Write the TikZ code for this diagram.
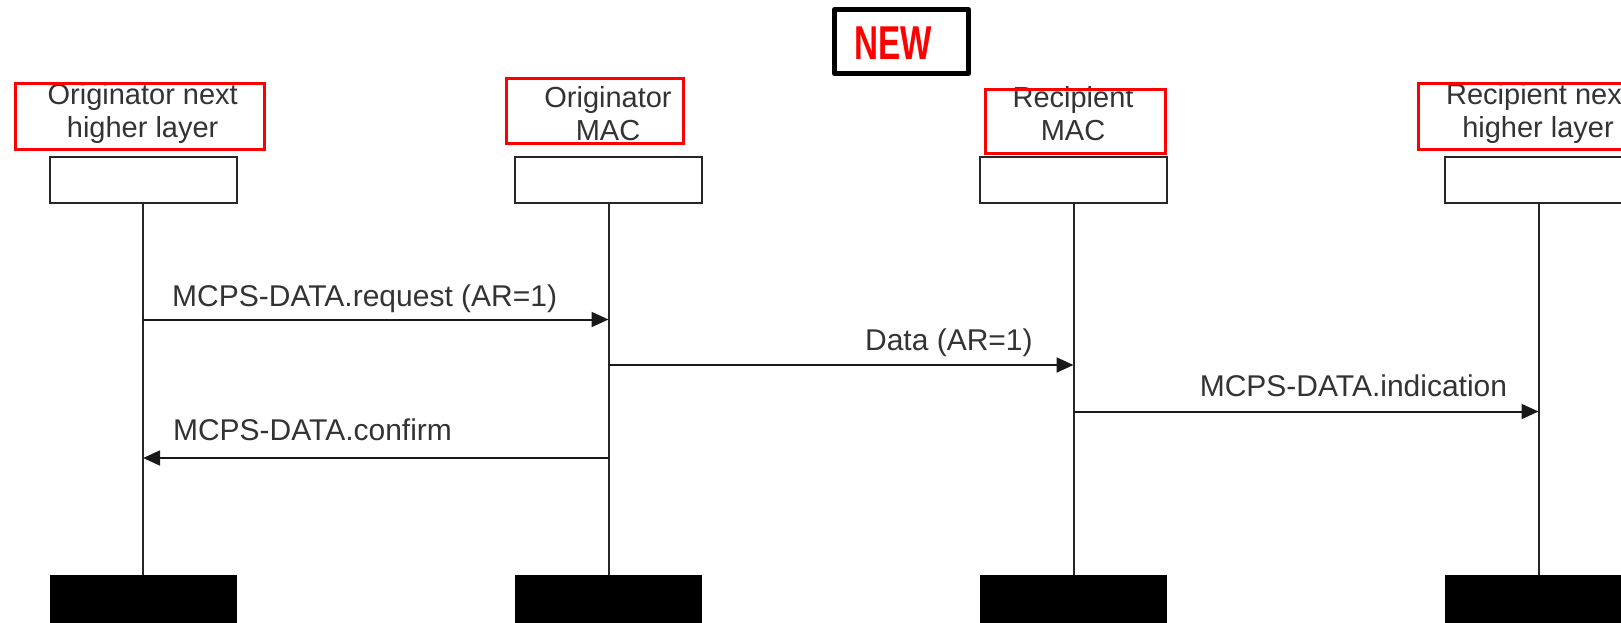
\documentclass[tikz,border=0pt]{standalone}
\usepackage{fontspec}
\setmainfont{Liberation Sans}
\usetikzlibrary{arrows.meta}

\tikzset{
  lifebox/.style={draw=black!85, line width=2pt, fill=white, inner sep=0pt,
    minimum width=187pt, minimum height=45.6pt},
  endbox/.style={fill=black, inner sep=0pt, minimum width=187pt, minimum height=56pt},
  headtext/.style={align=center, text=black!80, inner sep=0pt,
    font=\fontsize{29}{33}\selectfont},
  msgtext/.style={text=black!80, inner sep=0pt, anchor=base,
    font=\fontsize{30}{34}\selectfont},
  msg/.style={draw=black!90, line width=2pt, -{Triangle[length=17pt,width=15pt]}},
  lifeline/.style={draw=black!85, line width=2pt},
  redframe/.style={draw=red, line width=3pt},
}

\begin{document}
\begin{tikzpicture}[x=1pt, y=-1pt]
  \useasboundingbox (0,0) rectangle (1621,623);
  \clip (0,0) rectangle (1621,623);

  % "NEW" stamp
  \draw[line width=5pt, line join=round] (834.5,9.5) rectangle (968.5,73.5);
  \node[text=red, inner sep=0pt, font=\fontsize{47.5}{50}\bfseries] (new) at (893,43)
    {\scalebox{0.7}[1]{NEW}};

  % headers of the four lifelines
  \node[headtext] (ohlT) at (142.7,113.5) {Originator next\\higher layer};
  \node[headtext] (omacT) at (608,113.5) {Originator\\MAC};
  \node[headtext] (rmacT) at (1073,113.5) {Recipient\\MAC};
  \node[headtext] (rhlT) at (1538,113.5) {Recipient next\\higher layer};

  % red frames round the headers
  \draw[redframe] (15,84) rectangle (264,149.5);
  \draw[redframe] (506,79) rectangle (683,143);
  \draw[redframe] (985.5,89.5) rectangle (1165.5,153.5);
  \draw[redframe] (1418.5,84) rectangle (1630,149.5);

  % top and bottom boxes
  \node[lifebox] (ohl) at (143.1,179.8) {};
  \node[lifebox] (omac) at (608.5,179.8) {};
  \node[lifebox] (rmac) at (1073.5,179.8) {};
  \node[lifebox] (rhl) at (1538.5,179.8) {};
  \node[endbox] (ohlE) at (143.1,603) {};
  \node[endbox] (omacE) at (608.5,603) {};
  \node[endbox] (rmacE) at (1073.5,603) {};
  \node[endbox] (rhlE) at (1538.5,603) {};

  \draw[lifeline] (ohl.south) -- (ohlE.north);
  \draw[lifeline] (omac.south) -- (omacE.north);
  \draw[lifeline] (rmac.south) -- (rmacE.north);
  \draw[lifeline] (rhl.south) -- (rhlE.north);

  % message end points on the lifelines
  \coordinate (req1) at (143.1,319.5);
  \coordinate (req2) at (608.5,319.5);
  \coordinate (dat1) at (608.5,365);
  \coordinate (dat2) at (1073.5,365);
  \coordinate (ind1) at (1073.5,411.5);
  \coordinate (ind2) at (1538.5,411.5);
  \coordinate (cnf1) at (608.5,458);
  \coordinate (cnf2) at (143.1,458);

  \draw[msg] (req1) -- (req2)
    node[msgtext, pos=0.476, yshift=13pt] {MCPS-DATA.request (AR=1)};
  \draw[msg] (dat1) -- (dat2)
    node[msgtext, pos=0.732, yshift=15pt] {Data (AR=1)};
  \draw[msg] (ind1) -- (ind2)
    node[msgtext, pos=0.602, yshift=15pt] {MCPS-DATA.indication};
  \draw[msg] (cnf1) -- (cnf2)
    node[msgtext, pos=0.636, yshift=18pt] {MCPS-DATA.confirm};
\end{tikzpicture}
\end{document}
